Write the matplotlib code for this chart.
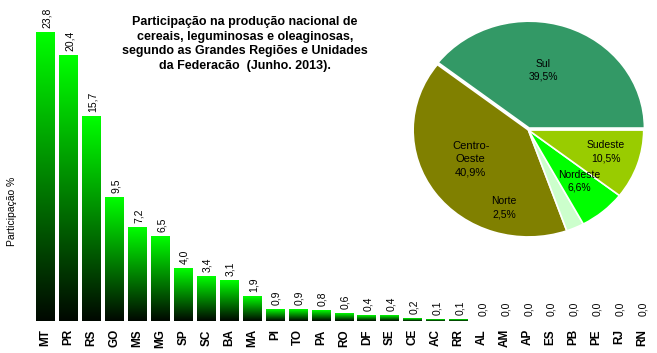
import numpy as np
import matplotlib
matplotlib.use('Agg')
import matplotlib.pyplot as plt
from matplotlib.colors import LinearSegmentedColormap

plt.rcParams['font.family'] = ['Liberation Sans', 'DejaVu Sans']

# bar chart data
ufs = ['MT', 'PR', 'RS', 'GO', 'MS', 'MG', 'SP', 'SC', 'BA', 'MA', 'PI', 'TO', 'PA', 'RO',
       'DF', 'SE', 'CE', 'AC', 'RR', 'AL', 'AM', 'AP', 'ES', 'PB', 'PE', 'RJ', 'RN']
part = [23.8, 20.4, 15.7, 9.5, 7.2, 6.5, 4.0, 3.4, 3.1, 1.9, 0.9, 0.9, 0.8, 0.6,
        0.4, 0.4, 0.2, 0.1, 0.1, 0.0, 0.0, 0.0, 0.0, 0.0, 0.0, 0.0, 0.0]
y_max = 22.2  # the MT bar is cut at the top of the plot in the original

# pie data
regioes = ['Sul', 'Centro-\nOeste', 'Norte', 'Nordeste', 'Sudeste']
reg_pct = [39.5, 40.9, 2.5, 6.6, 10.5]
reg_cores = ['#339966', '#808000', '#CCFFCC', '#00FF00', '#99CC00']
# label positions inside the pie (axes data units)
reg_lbl_pos = [(0.13, 0.56), (-0.50, -0.27), (-0.21, -0.73), (0.44, -0.48), (0.67, -0.20)]

fig = plt.figure(figsize=(6.57, 3.53), dpi=100)
ax = fig.add_axes([0.052, 0.091, 0.943, 0.818])

cmap = LinearSegmentedColormap.from_list('verde', ['#000800', '#00FF00'])
grad = np.linspace(0, 1, 256).reshape(-1, 1)
w = 0.82
x = np.arange(len(ufs))
for xi, v in zip(x, part):
    top = min(v, y_max)
    if v > 0:
        ax.imshow(grad, extent=(xi - w / 2, xi + w / 2, 0, top), origin='lower',
                  cmap=cmap, aspect='auto', interpolation='bilinear')
    ax.text(xi + 0.05, top + 0.35, f'{v:.1f}'.replace('.', ','), rotation=90,
            ha='center', va='bottom', fontsize=7.5, clip_on=False)

ax.set_xlim(-0.5, len(ufs) - 0.5)
ax.set_ylim(0, y_max)
ax.set_xticks(x)
ax.set_xticklabels(ufs, rotation=90, fontweight='bold', fontsize=8.5)
ax.tick_params(axis='x', length=0, pad=6)
ax.set_yticks([])
for s in ax.spines.values():
    s.set_visible(False)

fig.text(0.018, 0.40, 'Participação %', rotation=90, ha='center', va='center', fontsize=7.5)

fig.text(0.373, 0.875,
         'Participação na produção nacional de\ncereais, leguminosas e oleaginosas,\n'
         'segundo as Grandes Regiões e Unidades\nda Federacão  (Junho. 2013).',
         ha='center', va='center', fontsize=9, fontweight='bold', linespacing=1.3)

pax = fig.add_axes([412 / 657, 1 - 238 / 353, 234 / 657, 218 / 353])
wedges, _ = pax.pie(reg_pct, colors=reg_cores, startangle=0, counterclock=True,
                    explode=[0.02, 0, 0, 0, 0],
                    wedgeprops=dict(edgecolor='white', linewidth=1.2))
pax.set_aspect('auto')
pax.set_xlim(-1.01, 1.02)
pax.set_ylim(-1.01, 1.03)
for nome, p, (lx, ly) in zip(regioes, reg_pct, reg_lbl_pos):
    fs = 8 if 'Centro' in nome else 7.5
    pax.text(lx, ly, nome + '\n' + f'{p:.1f}%'.replace('.', ','), ha='center', va='center',
             fontsize=fs, linespacing=1.4)

fig.savefig('out.png', dpi=100)
